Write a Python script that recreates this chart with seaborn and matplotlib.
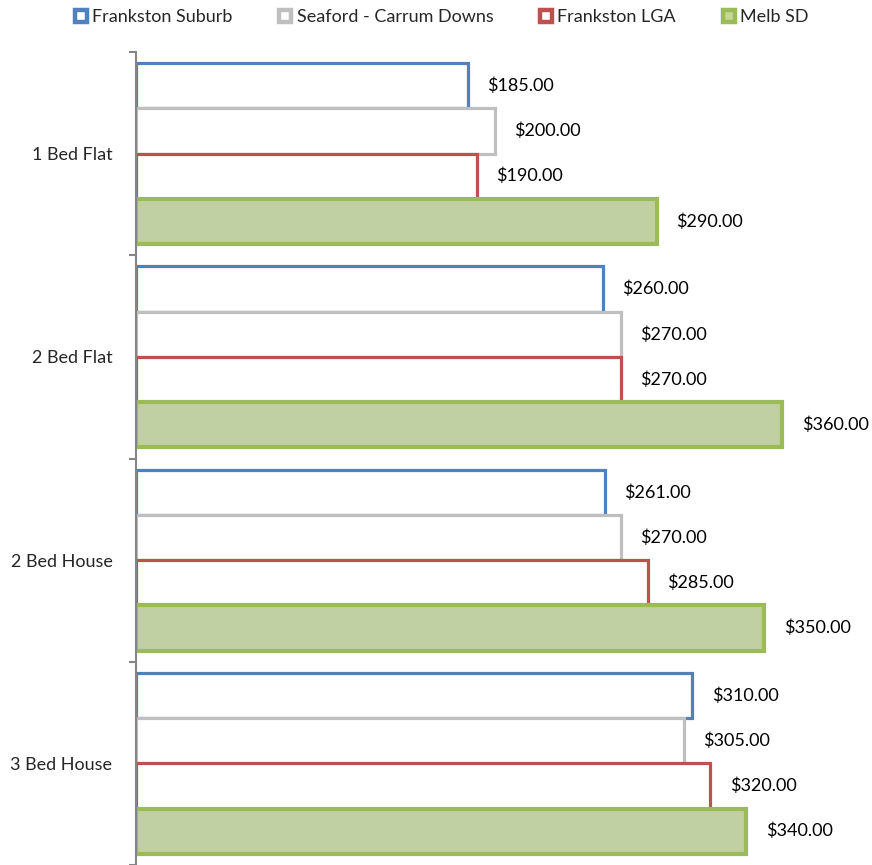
import numpy as np
import pandas as pd
import matplotlib.pyplot as plt
import seaborn as sns
from matplotlib.patches import Rectangle

# Data
types = ["1 Bed Flat", "2 Bed Flat", "2 Bed House", "3 Bed House"]
areas = ["Frankston Suburb", "Seaford - Carrum Downs", "Frankston LGA", "Melb SD"]
suburb = [185, 260, 261, 310]
seaford = [200, 270, 270, 305]
lga = [190, 270, 285, 320]
melb = [290, 360, 350, 340]

edge_cols = ["#4F81BD", "#BFBFBF", "#C0504D", "#9BBB59"]
face_cols = ["white", "white", "white", "#C4D79B"]
edge_widths = [2.3, 2.3, 2.3, 3.0]

df = pd.DataFrame({
    "type": types * 4,
    "area": np.repeat(areas, 4),
    "rent": suburb + seaford + lga + melb,
})

sns.set_style("white")
plt.rcParams['font.family'] = ['Lato', 'DejaVu Sans']

fig = plt.figure(figsize=(8.72, 8.65), dpi=100)
ax = fig.add_axes([136 / 872, 0, 736 / 872, 813 / 865])

sns.barplot(data=df, y="type", x="rent", hue="area", orient="h", order=types,
            hue_order=areas, palette=dict(zip(areas, face_cols)), width=0.89,
            legend=False, ax=ax, errorbar=None)

# bar edges and value labels
for cont, ec, lw in zip(ax.containers, edge_cols, edge_widths):
    for bar in cont:
        bar.set_edgecolor(ec)
        bar.set_linewidth(lw)
    ax.bar_label(cont, labels=["\\$%.2f" % v for v in cont.datavalues],
                 padding=14, fontsize=13, color="#000000")

ax.set_xlim(0, 410)
ax.set_ylim(3.5, -0.5)
ax.set_xlabel("")
ax.set_ylabel("")
ax.set_xticks([])
for s in ["top", "right", "bottom"]:
    ax.spines[s].set_visible(False)
ax.spines["left"].set_color("#868686")
ax.spines["left"].set_linewidth(1.5)

ax.set_yticks(range(4))
ax.set_yticklabels(types, fontsize=13)
ax.set_yticks(np.arange(-0.5, 4, 1), minor=True)
ax.tick_params(axis="y", which="major", length=0, pad=17)
ax.tick_params(axis="y", which="minor", length=5, width=1.5, color="#868686", left=True)

# legend at the top
handles = [Rectangle((0, 0), 1, 1, facecolor=f, edgecolor=e, linewidth=3.2)
           for e, f in zip(edge_cols, face_cols)]
fig.legend(handles, areas, loc="center left", bbox_to_anchor=(75 / 872, 1 - 17 / 865),
           ncol=4, frameon=False, fontsize=13, handlelength=0.65, handleheight=0.65,
           handletextpad=0.3, columnspacing=2.6, borderaxespad=0, borderpad=0)

fig.savefig("out.png", dpi=100)
